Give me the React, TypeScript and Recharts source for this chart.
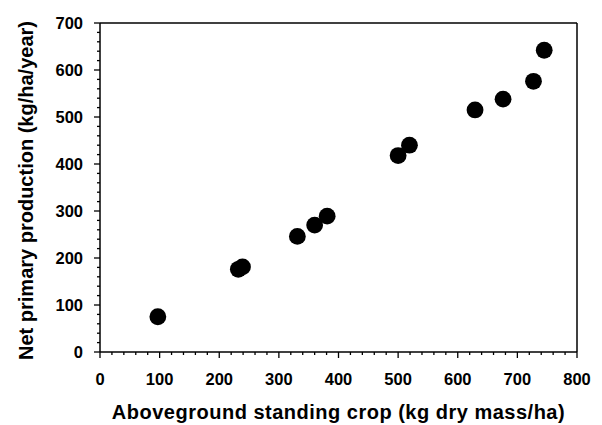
import React from "react";
import {
  ScatterChart,
  Scatter,
  XAxis,
  YAxis,
  Label,
} from "recharts";

// standing crop (kg dry mass/ha) vs net primary production (kg/ha/year)
const STANDING_CROP = [97, 232, 239, 331, 360, 381, 500, 519, 629, 676, 727, 745];
const NPP = [75, 176, 181, 246, 270, 289, 418, 440, 515, 538, 576, 642];

const X_MAJOR = [0, 100, 200, 300, 400, 500, 600, 700, 800];
const Y_MAJOR = [0, 100, 200, 300, 400, 500, 600, 700];
const MINOR_STEP = 20;

const X_TITLE = "Aboveground standing crop (kg dry mass/ha)";
const Y_TITLE = "Net primary production (kg/ha/year)";

const FONT = "'Liberation Sans', Arial, sans-serif";
const MAJOR_LEN = 6;
const MINOR_LEN = 3;

const data = STANDING_CROP.map((x, i) => ({ x, y: NPP[i] }));

function withMinors(max: number) {
  const out: number[] = [];
  for (let v = 0; v <= max; v += MINOR_STEP) out.push(v);
  return out;
}

const xTicks = withMinors(800);
const yTicks = withMinors(700);

// ticks drawn by hand so majors/minors get different lengths
const BottomTick = (props: any) => {
  const { x, y, payload } = props;
  const major = X_MAJOR.includes(payload.value);
  return (
    <g>
      <line x1={x} x2={x} y1={y} y2={y + (major ? MAJOR_LEN : MINOR_LEN)} stroke="#000" strokeWidth={1.3} />
      {major && (
        <text x={x} y={y + 33} textAnchor="middle" fontSize={16.5} fontWeight="bold" fontFamily={FONT} fill="#000">
          {payload.value}
        </text>
      )}
    </g>
  );
};

const TopTick = (props: any) => {
  const { x, y, payload } = props;
  const major = X_MAJOR.includes(payload.value);
  return <line x1={x} x2={x} y1={y} y2={y + (major ? MAJOR_LEN : MINOR_LEN)} stroke="#000" strokeWidth={1.3} />;
};

const LeftTick = (props: any) => {
  const { x, y, payload } = props;
  const major = Y_MAJOR.includes(payload.value);
  return (
    <g>
      <line x1={x} x2={x - (major ? MAJOR_LEN : MINOR_LEN)} y1={y} y2={y} stroke="#000" strokeWidth={1.3} />
      {major && (
        <text x={x - 17} y={y + 6} textAnchor="end" fontSize={16.5} fontWeight="bold" fontFamily={FONT} fill="#000">
          {payload.value}
        </text>
      )}
    </g>
  );
};

const RightTick = (props: any) => {
  const { x, y, payload } = props;
  const major = Y_MAJOR.includes(payload.value);
  return <line x1={x} x2={x - (major ? MAJOR_LEN : MINOR_LEN)} y1={y} y2={y} stroke="#000" strokeWidth={1.3} />;
};

const Dot = (props: any) => <circle cx={props.cx} cy={props.cy} r={8.4} fill="#000" />;

export default function App() {
  return (
    <div style={{ position: "absolute", left: 0, top: 0, background: "#fff" }}>
      <ScatterChart width={602} height={425} margin={{ top: 22, right: 24, bottom: 0, left: 0 }}>
        <XAxis
          xAxisId="b"
          type="number"
          dataKey="x"
          domain={[0, 800]}
          ticks={xTicks}
          interval={0}
          tickSize={0}
          tickMargin={0}
          tick={<BottomTick />}
          axisLine={{ stroke: "#000", strokeWidth: 1.5 }}
          height={73}
        >
          <Label
            content={(p: any) => {
              const vb = p.viewBox;
              return (
                <text x={vb.x + vb.width / 2} y={vb.y + 66.5} textAnchor="middle" fontSize={20} fontWeight="bold" fontFamily={FONT} fill="#000" letterSpacing={0.5}>
                  {X_TITLE}
                </text>
              );
            }}
          />
        </XAxis>
        <XAxis
          xAxisId="t"
          orientation="top"
          type="number"
          dataKey="x"
          domain={[0, 800]}
          ticks={xTicks}
          interval={0}
          tickSize={0}
          tickMargin={0}
          tick={<TopTick />}
          axisLine={{ stroke: "#000", strokeWidth: 1.5 }}
          height={1}
        />
        <YAxis
          yAxisId="l"
          type="number"
          dataKey="y"
          domain={[0, 700]}
          ticks={yTicks}
          interval={0}
          tickSize={0}
          tickMargin={0}
          tick={<LeftTick />}
          axisLine={{ stroke: "#000", strokeWidth: 1.5 }}
          width={100}
        >
          <Label
            content={(p: any) => {
              const vb = p.viewBox;
              const cy = vb.y + vb.height / 2 + 3;
              return (
                <text x={33} y={cy} transform={`rotate(-90, 33, ${cy})`} textAnchor="middle" fontSize={20} fontWeight="bold" fontFamily={FONT} fill="#000">
                  {Y_TITLE}
                </text>
              );
            }}
          />
        </YAxis>
        <YAxis
          yAxisId="r"
          orientation="right"
          type="number"
          dataKey="y"
          domain={[0, 700]}
          ticks={yTicks}
          interval={0}
          tickSize={0}
          tickMargin={0}
          tick={<RightTick />}
          axisLine={{ stroke: "#000", strokeWidth: 1.5 }}
          width={1}
        />
        <Scatter data={data} xAxisId="b" yAxisId="l" shape={Dot} isAnimationActive={false} />
      </ScatterChart>
    </div>
  );
}
